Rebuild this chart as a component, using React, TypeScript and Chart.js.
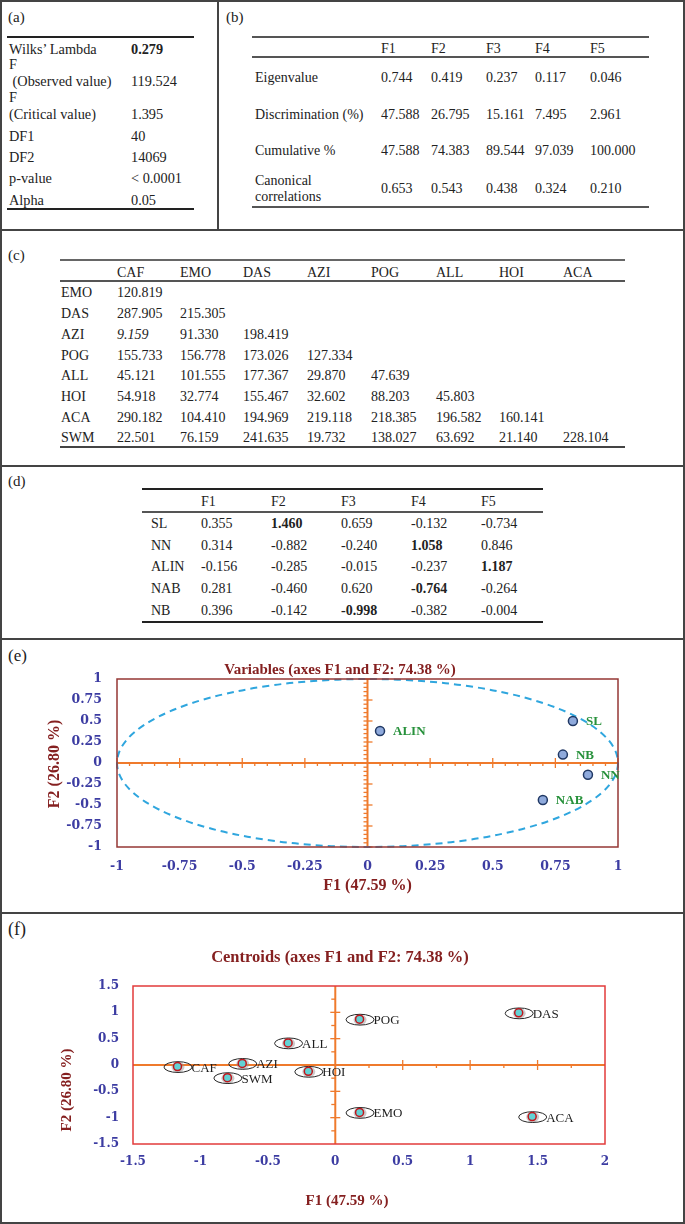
import React, { useEffect, useRef } from "react";
import { Chart, registerables } from "chart.js";
Chart.register(...registerables);

// ---------------- data ----------------
// (a) overall test
const aStats = ["Wilks’ Lambda", "F", " (Observed value)", "F", "(Critical value)", "DF1", "DF2", "p-value", "Alpha"];
const aValues = ["0.279", "", "119.524", "", "1.395", "40", "14069", "< 0.0001", "0.05"];

// (b) eigenvalues
const bFactors = ["F1", "F2", "F3", "F4", "F5"];
const bEigenvalue = [0.744, 0.419, 0.237, 0.117, 0.046];
const bDiscrimination = [47.588, 26.795, 15.161, 7.495, 2.961];
const bCumulative = [47.588, 74.383, 89.544, 97.039, 100.0];
const bCanonical = [0.653, 0.543, 0.438, 0.324, 0.21];

// (c) squared distances
const cCols = ["CAF", "EMO", "DAS", "AZI", "POG", "ALL", "HOI", "ACA"];
const cRows = ["EMO", "DAS", "AZI", "POG", "ALL", "HOI", "ACA", "SWM"];
const cEMO = [120.819];
const cDAS = [287.905, 215.305];
const cAZI = [9.159, 91.33, 198.419];
const cPOG = [155.733, 156.778, 173.026, 127.334];
const cALL = [45.121, 101.555, 177.367, 29.87, 47.639];
const cHOI = [54.918, 32.774, 155.467, 32.602, 88.203, 45.803];
const cACA = [290.182, 104.41, 194.969, 219.118, 218.385, 196.582, 160.141];
const cSWM = [22.501, 76.159, 241.635, 19.732, 138.027, 63.692, 21.14, 228.104];

// (d) standardized coefficients
const dVars = ["SL", "NN", "ALIN", "NAB", "NB"];
const dF1 = [0.355, 0.314, -0.156, 0.281, 0.396];
const dF2 = [1.46, -0.882, -0.285, -0.46, -0.142];
const dF3 = [0.659, -0.24, -0.015, 0.62, -0.998];
const dF4 = [-0.132, 1.058, -0.237, -0.764, -0.382];
const dF5 = [-0.734, 0.846, 1.187, -0.264, -0.004];
const dBold = ["0-1", "1-3", "2-4", "3-3", "4-2"];

// (e) variables
const eVars = ["SL", "NN", "ALIN", "NAB", "NB"];
const eF1 = [0.82, 0.88, 0.05, 0.70, 0.78];
const eF2 = [0.50, -0.14, 0.38, -0.44, 0.10];
const eTicks = [-1, -0.75, -0.5, -0.25, 0, 0.25, 0.5, 0.75, 1];

// (f) centroids
const fGroups = ["CAF", "EMO", "DAS", "AZI", "POG", "ALL", "HOI", "ACA", "SWM"];
const fF1 = [-1.17, 0.18, 1.36, -0.69, 0.18, -0.35, -0.2, 1.46, -0.8];
const fF2 = [-0.03, -0.9, 0.99, 0.03, 0.87, 0.42, -0.12, -0.98, -0.24];
const fXTicks = [-1.5, -1, -0.5, 0, 0.5, 1, 1.5, 2];
const fYTicks = [-1.5, -1, -0.5, 0, 0.5, 1, 1.5];

// ---------------- style constants ----------------
const SERIF = "'Liberation Serif', 'Times New Roman', serif";
const TXT = "#222";
const MAROON = "#852020";
const TICKBLUE = "#3c3ca2";
const ORANGE = "#ef7a2c";

function Txt(props: any) {
  const { x, y, children, size = 14, bold = false, italic = false, color = TXT } = props;
  const lh = Math.round(size * 1.2);
  return (
    <div
      style={{
        position: "absolute",
        left: x,
        top: y - lh / 2,
        lineHeight: lh + "px",
        fontSize: size,
        fontFamily: SERIF,
        fontWeight: bold ? 700 : 400,
        fontStyle: italic ? "italic" : "normal",
        color,
        whiteSpace: "pre",
      }}
    >
      {children}
    </div>
  );
}

function HLine(props: any) {
  const { x1, x2, y, w = 1.5, color = "#444" } = props;
  return <div style={{ position: "absolute", left: x1, top: y - w / 2, width: x2 - x1, height: w, background: color }} />;
}
function VLine(props: any) {
  const { x, y1, y2, w = 1.5, color = "#444" } = props;
  return <div style={{ position: "absolute", left: x - w / 2, top: y1, width: w, height: y2 - y1, background: color }} />;
}

function line(ctx: CanvasRenderingContext2D, x1: number, y1: number, x2: number, y2: number) {
  ctx.beginPath();
  ctx.moveTo(x1, y1);
  ctx.lineTo(x2, y2);
  ctx.stroke();
}

function drawTitle(ctx: CanvasRenderingContext2D, text: string, x: number, y: number, size: number, rotate: boolean) {
  ctx.save();
  ctx.font = `bold ${size}px ${SERIF}`;
  ctx.fillStyle = MAROON;
  ctx.textAlign = "center";
  ctx.textBaseline = "middle";
  ctx.translate(x, y);
  if (rotate) ctx.rotate(-Math.PI / 2);
  ctx.fillText(text, 0, 0);
  ctx.restore();
}

const tickFont = (size: number) => ({ family: "'DejaVu Serif', serif", size, weight: "bold" as const });

function eConfig(): any {
  const decor = {
    id: "eDecor",
    beforeDatasetsDraw(chart: any) {
      const { ctx, chartArea: a, scales } = chart;
      const x = scales.x, y = scales.y;
      const x0 = x.getPixelForValue(0), y0 = y.getPixelForValue(0);
      ctx.save();
      ctx.strokeStyle = ORANGE;
      ctx.lineWidth = 2;
      line(ctx, a.left, y0, a.right, y0);
      line(ctx, x0, a.top, x0, a.bottom);
      ctx.lineWidth = 1.3;
      for (let i = -20; i <= 20; i++) {
        if (i === 0) continue;
        const px = x.getPixelForValue(i * 0.05);
        if (i % 5 === 0) line(ctx, px, y0 - 5, px, y0 + 5);
        else line(ctx, px, y0, px, y0 + 3);
        const py = y.getPixelForValue(i * 0.05);
        if (i % 5 === 0) line(ctx, x0 - 4, py, x0 + 5, py);
        else line(ctx, x0 - 4, py, x0, py);
      }
      ctx.setLineDash([7, 5]);
      ctx.strokeStyle = "#2fa6de";
      ctx.lineWidth = 2;
      ctx.beginPath();
      ctx.ellipse(x0, y0, x.getPixelForValue(1) - x0, y0 - y.getPixelForValue(1), 0, 0, Math.PI * 2);
      ctx.stroke();
      ctx.setLineDash([]);
      ctx.strokeStyle = "#953735";
      ctx.lineWidth = 1.5;
      ctx.strokeRect(a.left, a.top, a.right - a.left, a.bottom - a.top);
      ctx.restore();
    },
    afterDatasetsDraw(chart: any) {
      const { ctx, chartArea: a } = chart;
      const meta = chart.getDatasetMeta(0);
      ctx.save();
      ctx.font = `bold 13px ${SERIF}`;
      ctx.fillStyle = "#27913b";
      ctx.textAlign = "left";
      ctx.textBaseline = "middle";
      meta.data.forEach((pt: any, i: number) => ctx.fillText(eVars[i], pt.x + 13, pt.y + 1));
      ctx.restore();
      drawTitle(ctx, "F1 (47.59 %)", (a.left + a.right) / 2, a.bottom + 39, 16, false);
      drawTitle(ctx, "F2 (26.80 %)", a.left - 62, (a.top + a.bottom) / 2 + 1, 16, true);
    },
  };
  return {
    type: "scatter",
    data: {
      datasets: [
        {
          data: eF1.map((v, i) => ({ x: v, y: eF2[i] })),
          pointRadius: 4.5,
          backgroundColor: "#8faadc",
          borderColor: "#203864",
          borderWidth: 1.5,
        },
      ],
    },
    options: {
      animation: false,
      responsive: false,
      maintainAspectRatio: false,
      layout: { padding: { left: 61, right: 65, top: 0, bottom: 0 }, autoPadding: false },
      plugins: {
        legend: { display: false },
        tooltip: { enabled: false },
        title: {
          display: true,
          text: "Variables (axes F1 and F2: 74.38 %)",
          color: MAROON,
          font: { family: SERIF, size: 15, weight: "bold" },
          padding: { top: 21, bottom: 0 },
        },
      },
      scales: {
        x: {
          type: "linear",
          min: -1,
          max: 1,
          grid: { display: false, drawTicks: false },
          border: { display: false },
          ticks: { color: TICKBLUE, font: tickFont(12.5), padding: 12.5, callback: (v: any) => String(v) },
          afterBuildTicks: (s: any) => { s.ticks = eTicks.map((v) => ({ value: v })); },
          afterFit: (s: any) => { s.height = 65; },
        },
        y: {
          type: "linear",
          min: -1,
          max: 1,
          grid: { display: false, drawTicks: false },
          border: { display: false },
          ticks: { color: TICKBLUE, font: tickFont(12.5), padding: 15, callback: (v: any) => String(v) },
          afterBuildTicks: (s: any) => { s.ticks = eTicks.map((v) => ({ value: v })); },
          afterFit: (s: any) => { s.width = 55; },
        },
      },
    },
    plugins: [decor],
  };
}

function fConfig(): any {
  const decor = {
    id: "fDecor",
    beforeDatasetsDraw(chart: any) {
      const { ctx, chartArea: a, scales } = chart;
      const x = scales.x, y = scales.y;
      const x0 = x.getPixelForValue(0), y0 = y.getPixelForValue(0);
      ctx.save();
      ctx.strokeStyle = ORANGE;
      ctx.lineWidth = 2;
      line(ctx, a.left, y0, a.right, y0);
      line(ctx, x0, a.top, x0, a.bottom);
      ctx.lineWidth = 1.3;
      for (let i = 1; i < 8; i++) {
        const px = x.getPixelForValue(i * 0.25);
        if (i % 2 === 0) line(ctx, px, y0 - 5, px, y0 + 5);
        else line(ctx, px, y0, px, y0 + 3);
      }
      for (let i = -5; i <= 5; i++) {
        if (i === 0) continue;
        const py = y.getPixelForValue(i * 0.25);
        if (i % 2 === 0) line(ctx, x0 - 5, py, x0 + 5, py);
        else line(ctx, x0 - 4, py, x0, py);
      }
      ctx.strokeStyle = "#e23b3b";
      ctx.lineWidth = 1.5;
      ctx.strokeRect(a.left, a.top, a.right - a.left, a.bottom - a.top);
      // ellipses around centroids
      const meta = chart.getDatasetMeta(0);
      meta.data.forEach((pt: any) => {
        ctx.fillStyle = "rgba(140,140,140,0.45)";
        ctx.beginPath();
        ctx.ellipse(pt.x + 0.5, pt.y + 0.5, 6.5, 5.3, 0, 0, Math.PI * 2);
        ctx.fill();
        ctx.strokeStyle = "#262626";
        ctx.lineWidth = 1;
        ctx.beginPath();
        ctx.ellipse(pt.x + 0.5, pt.y + 0.5, 14, 5.4, 0, 0, Math.PI * 2);
        ctx.stroke();
      });
      ctx.restore();
    },
    afterDatasetsDraw(chart: any) {
      const { ctx, chartArea: a } = chart;
      const meta = chart.getDatasetMeta(0);
      ctx.save();
      ctx.font = `13px ${SERIF}`;
      ctx.fillStyle = "#1e1e1e";
      ctx.textAlign = "left";
      ctx.textBaseline = "middle";
      meta.data.forEach((pt: any, i: number) => ctx.fillText(fGroups[i], pt.x + 14, pt.y + 1.5));
      ctx.restore();
      drawTitle(ctx, "F1 (47.59 %)", a.left + 214, a.bottom + 57, 15, false);
      drawTitle(ctx, "F2 (26.80 %)", a.left - 66, (a.top + a.bottom) / 2 + 25, 15, true);
    },
  };
  return {
    type: "scatter",
    data: {
      datasets: [
        {
          data: fF1.map((v, i) => ({ x: v, y: fF2[i] })),
          pointRadius: 4,
          backgroundColor: "#62d2d4",
          borderColor: "#c0161c",
          borderWidth: 1.5,
        },
      ],
    },
    options: {
      animation: false,
      responsive: false,
      maintainAspectRatio: false,
      layout: { padding: { left: 74, right: 78, top: 0, bottom: 0 }, autoPadding: false },
      plugins: {
        legend: { display: false },
        tooltip: { enabled: false },
        title: {
          display: true,
          text: "Centroids (axes F1 and F2: 74.38 %)",
          color: MAROON,
          font: { family: SERIF, size: 16.5, weight: "bold" },
          padding: { top: 34, bottom: 18.2 },
        },
      },
      scales: {
        x: {
          type: "linear",
          min: -1.5,
          max: 2,
          grid: { display: false, drawTicks: false },
          border: { display: false },
          ticks: { color: TICKBLUE, font: tickFont(12), padding: 10.8, callback: (v: any) => String(v) },
          afterBuildTicks: (s: any) => { s.ticks = fXTicks.map((v) => ({ value: v })); },
          afterFit: (s: any) => { s.height = 78; },
        },
        y: {
          type: "linear",
          min: -1.5,
          max: 1.5,
          grid: { display: false, drawTicks: false },
          border: { display: false },
          ticks: { color: TICKBLUE, font: tickFont(12), padding: 14, callback: (v: any) => String(v) },
          afterBuildTicks: (s: any) => { s.ticks = fYTicks.map((v) => ({ value: v })); },
          afterFit: (s: any) => { s.width = 58; },
        },
      },
    },
    plugins: [decor],
  };
}

// ---------------- layout constants ----------------
const aRowY = [49, 64, 81, 97, 114, 136, 157, 178, 200];
const bColX = [381, 431, 486, 535, 590];
const bRowY = [77, 114, 150, 188];
const cColX = [117, 180, 243, 307, 371, 436, 499, 563];
const cRowY = [292, 313, 334, 355, 375, 396, 417, 437];
const dColX = [201, 271, 341, 411, 481];
const dRowY = [523, 545, 566, 588, 610];

export default function App() {
  const eRef = useRef<HTMLCanvasElement>(null);
  const fRef = useRef<HTMLCanvasElement>(null);

  useEffect(() => {
    const ce = new Chart(eRef.current as HTMLCanvasElement, eConfig());
    const cf = new Chart(fRef.current as HTMLCanvasElement, fConfig());
    return () => {
      ce.destroy();
      cf.destroy();
    };
  }, []);

  const cData = [cEMO, cDAS, cAZI, cPOG, cALL, cHOI, cACA, cSWM];
  const dData = [dF1, dF2, dF3, dF4, dF5];
  const bData = [bEigenvalue, bDiscrimination, bCumulative, bCanonical];
  const bLabels = ["Eigenvalue", "Discrimination (%)", "Cumulative %"];

  return (
    <div style={{ position: "relative", width: 685, height: 1224, background: "#fff", overflow: "hidden" }}>
      <style>{`html,body{margin:0;padding:0;background:#fff}`}</style>

      {/* frame */}
      <HLine x1={0} x2={685} y={1} w={2} />
      <HLine x1={0} x2={685} y={1222.5} w={2} />
      <VLine x={0.75} y1={0} y2={1224} w={1.5} />
      <VLine x={684} y1={0} y2={1224} w={2} />
      <VLine x={218} y1={0} y2={230} w={2} />
      <HLine x1={0} x2={685} y={230} w={2} />
      <HLine x1={0} x2={685} y={465.5} w={2} />
      <HLine x1={0} x2={685} y={639} w={2} />
      <HLine x1={0} x2={685} y={913} w={2} />

      {/* panel labels */}
      <Txt x={8} y={17} size={15}>(a)</Txt>
      <Txt x={226} y={17} size={15}>(b)</Txt>
      <Txt x={8} y={255} size={15}>(c)</Txt>
      <Txt x={8} y={481} size={15}>(d)</Txt>
      <Txt x={8} y={656} size={17}>(e)</Txt>
      <Txt x={8} y={929} size={18}>(f)</Txt>

      {/* (a) */}
      <HLine x1={7} x2={194} y={37} w={2} color="#222" />
      <HLine x1={7} x2={194} y={209} w={2} color="#222" />
      {aStats.map((s, i) => (
        <Txt key={"as" + i} x={9} y={aRowY[i]} size={14.3}>{s}</Txt>
      ))}
      {aValues.map((v, i) => (
        <Txt key={"av" + i} x={131} y={aRowY[i]} size={14.3} bold={i === 0}>{v}</Txt>
      ))}

      {/* (b) */}
      <HLine x1={252} x2={649} y={37} w={1.6} color="#555" />
      <HLine x1={252} x2={649} y={57} w={1.3} color="#555" />
      <HLine x1={252} x2={649} y={207} w={1.6} color="#555" />
      {bFactors.map((f, i) => (
        <Txt key={"bf" + i} x={bColX[i]} y={48}>{f}</Txt>
      ))}
      {bLabels.map((l, i) => (
        <Txt key={"bl" + i} x={255} y={bRowY[i]}>{l}</Txt>
      ))}
      <Txt x={255} y={180}>Canonical</Txt>
      <Txt x={255} y={196}>correlations</Txt>
      {bData.map((row, r) =>
        row.map((v, c) => (
          <Txt key={"bv" + r + "-" + c} x={bColX[c]} y={bRowY[r]}>{v.toFixed(3)}</Txt>
        ))
      )}

      {/* (c) */}
      <HLine x1={60} x2={625} y={260} w={1.6} color="#666" />
      <HLine x1={60} x2={625} y={281} w={1.4} color="#555" />
      <HLine x1={60} x2={625} y={447} w={2} color="#444" />
      {cCols.map((c, i) => (
        <Txt key={"cc" + i} x={cColX[i]} y={272}>{c}</Txt>
      ))}
      {cRows.map((r, i) => (
        <Txt key={"cr" + i} x={61} y={cRowY[i]}>{r}</Txt>
      ))}
      {cData.map((row, r) =>
        row.map((v, c) => (
          <Txt key={"cv" + r + "-" + c} x={cColX[c]} y={cRowY[r]} italic={r === 2 && c === 0}>{v.toFixed(3)}</Txt>
        ))
      )}

      {/* (d) */}
      <HLine x1={142} x2={543} y={489} w={2} color="#222" />
      <HLine x1={142} x2={543} y={512} w={1.5} color="#555" />
      <HLine x1={142} x2={543} y={622} w={2} color="#222" />
      {bFactors.map((f, i) => (
        <Txt key={"df" + i} x={dColX[i]} y={501}>{f}</Txt>
      ))}
      {dVars.map((v, i) => (
        <Txt key={"dv" + i} x={151} y={dRowY[i]}>{v}</Txt>
      ))}
      {dData.map((col, c) =>
        col.map((v, r) => (
          <Txt key={"dd" + r + "-" + c} x={dColX[c]} y={dRowY[r]} bold={dBold.includes(r + "-" + c)}>{v.toFixed(3)}</Txt>
        ))
      )}

      {/* (e) chart */}
      <canvas ref={eRef} width={682} height={272} style={{ position: "absolute", left: 1, top: 640, display: "block" }} />
      {/* (f) chart */}
      <canvas ref={fRef} width={682} height={308} style={{ position: "absolute", left: 1, top: 914, display: "block" }} />
    </div>
  );
}
